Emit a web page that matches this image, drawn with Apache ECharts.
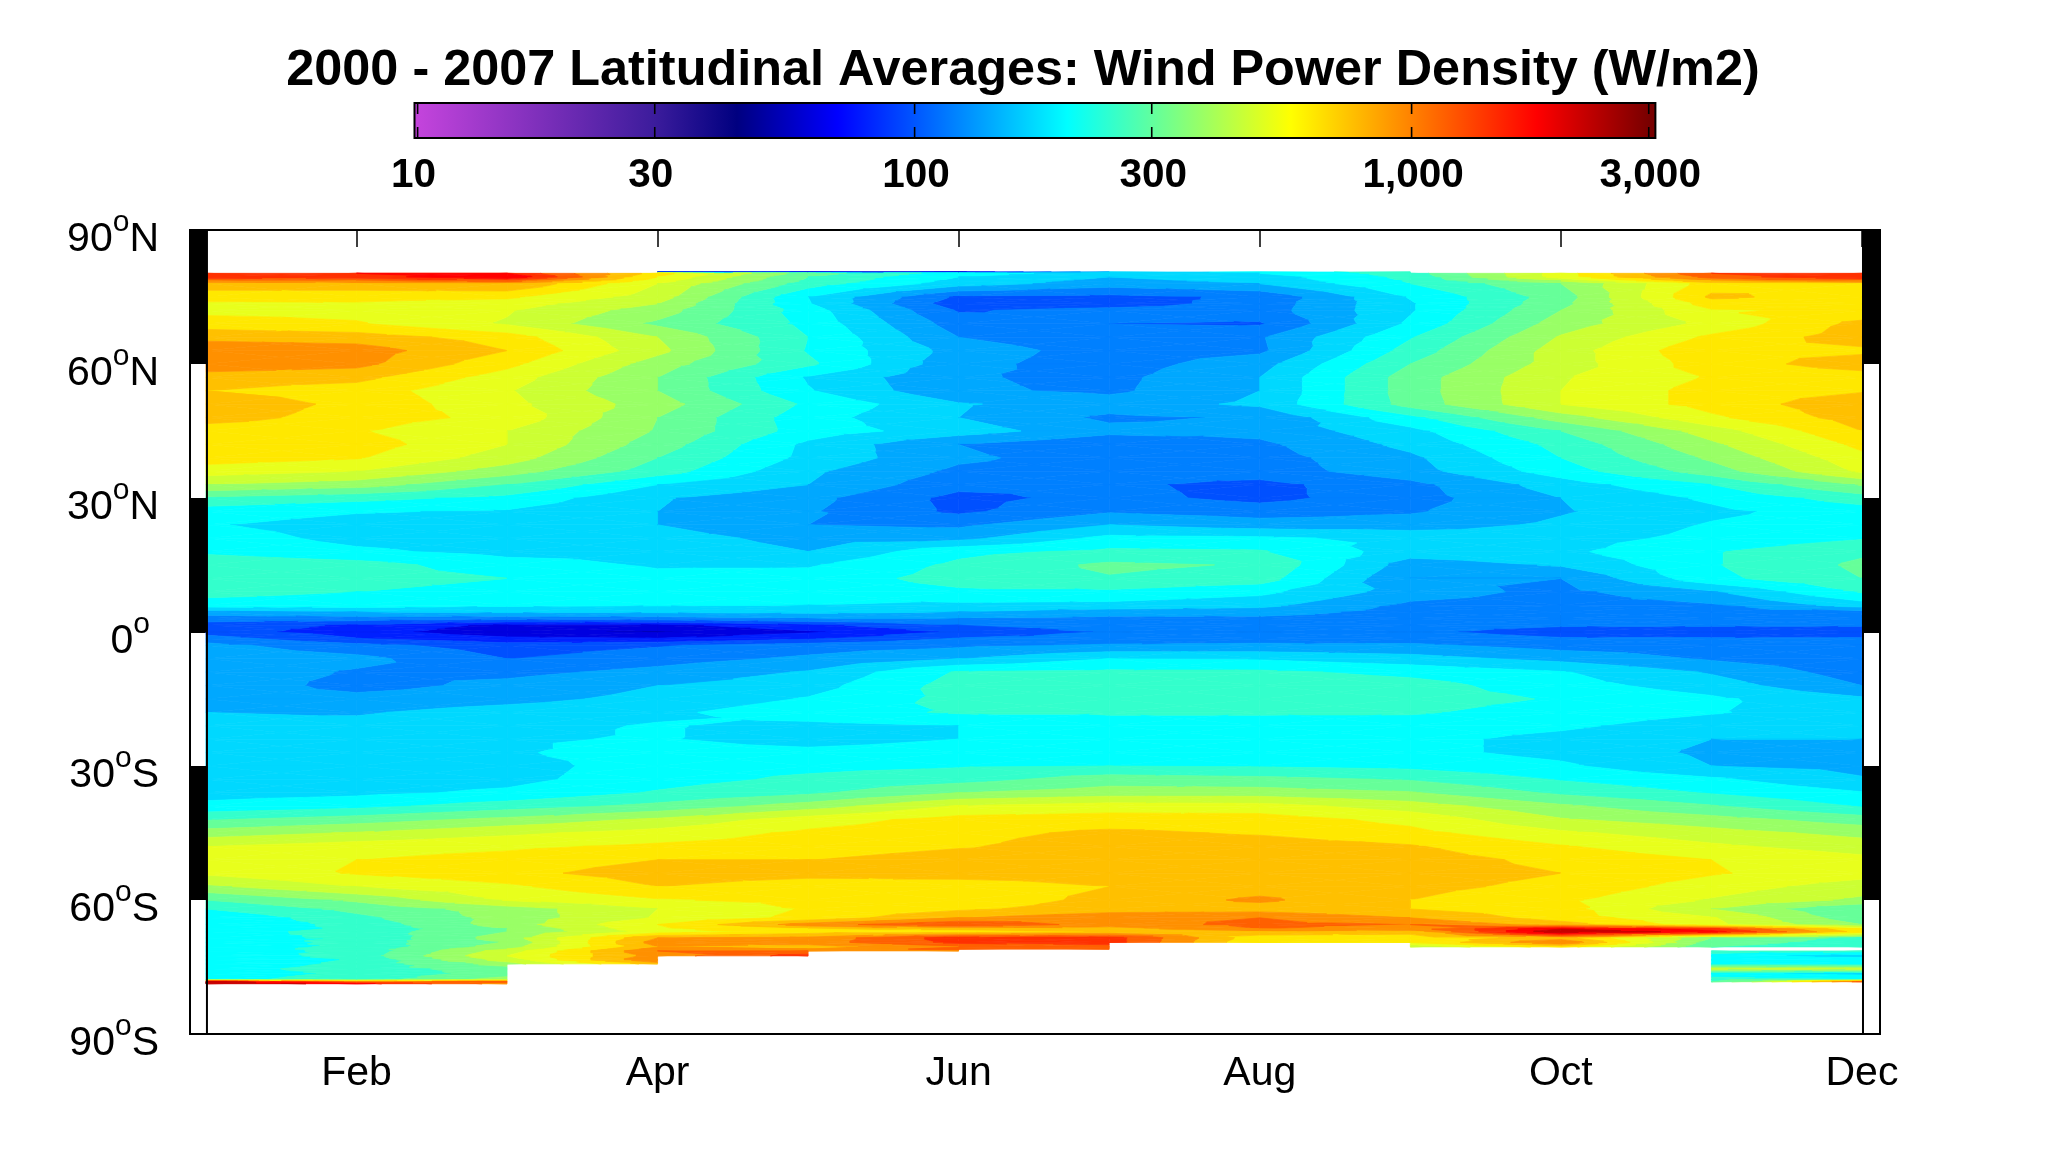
<!DOCTYPE html>
<html>
<head>
<meta charset="utf-8">
<style>html,body{margin:0;padding:0;background:#fff}#c{width:2069px;height:1149px}</style>
<script src="https://cdn.jsdelivr.net/npm/echarts@6/dist/echarts.min.js"></script>
</head>
<body>
<div id="c"></div>
<script>
const titleText = '2000 - 2007 Latitudinal Averages: Wind Power Density (W/m2)';
const monthNames = ['Jan','Feb','Mar','Apr','May','Jun','Jul','Aug','Sep','Oct','Nov','Dec'];
const monthTicks = [2,4,6,8,10,12];
const latTicks = {'90':'90|N','60':'60|N','30':'30|N','0':'0|','-30':'30|S','-60':'60|S','-90':'90|S'};
const blackBands = [[90,60],[30,0],[-30,-60]];
const cbarTicks = [10,30,100,300,1000,3000];
const cbarStopValues = [9.857,10,30,44,70,203,570,1778,3000,3094];
const cbarStopColors = ['#c444dc','#c444dc','#3c1c9c','#000080','#0000ff','#00ffff','#ffff00','#ff0000','#780000','#780000'];
const contourLevels = [43,53,65,80,98,121,149,183,225,277,342,421,518,638,785,966,1189,1464,1802,2220,2730];
const bandColors = ['#00008c','#0000b8','#0000e0','#0020ff','#0050ff','#0080ff','#00a8ff','#00d8ff','#00ffff','#33ffcc','#66ff99','#99ff66','#ccff33','#e8ff1c','#ffe800','#ffc000','#ff9000','#ff6000','#ff3000','#ff0000','#c80000','#900000'];
const latitudes = [80.6,80.3,79.5,78.6,78,75,73.5,72,69,66,63,60,57,54,51,48,45,42,39,36,33,30,27,24,21,18,15,12,9,6,4.5,3,1.5,0,-1.5,-3,-6,-9,-12,-15,-18,-21,-24,-27,-30,-33,-36,-39,-42,-45,-48,-51,-54,-57,-60,-62,-64,-65.5,-66.5,-67.1,-68.5,-69.5,-70.5,-71,-71.4,-72.5,-73.4,-74.3,-75.4,-76.5,-77.8,-78.3,-78.75];
const N = null;
const windPower = [
[N,N,N,50,50,50,149,203,250,N,N,N],
[1625,1802,1802,708,308,203,165,183,250,575,1464,1625],
[1700,1625,2220,638,277,183,149,165,240,575,1320,1802],
[1140,1189,1320,575,266,172,140,158,230,421,966,1189],
[871,908,966,518,250,165,134,149,225,342,708,785],
[708,679,665,467,183,94,92,102,186,308,818,708],
[612,625,575,421,186,86,88,107,179,321,708,693],
[599,599,529,379,203,96,105,109,179,342,625,665],
[708,651,507,328,212,109,98,96,190,379,551,836],
[908,871,708,421,225,121,102,118,221,430,665,871],
[1117,1072,785,448,221,137,109,116,245,467,753,753],
[1117,1028,679,379,235,129,109,137,277,467,708,871],
[871,836,575,342,179,124,114,149,308,507,651,708],
[785,708,529,342,186,126,116,149,308,518,693,769],
[927,738,551,379,216,152,134,155,302,518,693,908],
[871,708,599,342,199,149,116,124,212,379,612,871],
[693,651,518,335,203,165,129,129,172,277,467,785],
[708,708,518,308,175,121,102,116,158,240,403,679],
[708,651,467,277,172,126,109,111,143,225,356,599],
[575,518,379,250,155,116,109,109,137,203,308,540],
[421,379,277,183,149,105,102,92,114,165,225,349],
[266,240,212,152,129,92,105,92,111,149,190,250],
[203,186,179,149,124,94,118,109,118,146,175,203],
[186,168,165,149,121,116,149,134,134,155,186,203],
[203,172,165,165,137,140,194,190,172,168,194,221],
[216,190,172,175,149,212,235,230,165,175,221,266],
[261,245,199,179,179,235,289,272,134,152,221,289],
[266,245,225,194,199,245,272,250,121,121,212,277],
[240,225,207,194,194,216,216,194,134,114,146,230],
[207,203,190,186,183,175,172,158,116,111,118,165],
[134,149,155,155,158,149,134,134,111,109,109,114],
[109,109,105,109,121,121,114,114,109,109,109,109],
[88,78,61,61,75,98,109,109,105,100,100,100],
[88,72,55,52,63,83,100,105,102,90,88,88],
[109,81,69,66,78,100,109,111,109,100,100,100],
[129,105,88,96,109,116,124,126,126,111,109,109],
[140,129,98,111,126,149,183,179,162,140,118,105],
[140,118,114,129,152,230,235,235,212,186,146,109],
[143,111,129,149,168,245,261,266,245,199,165,121],
[140,131,140,158,186,240,272,261,245,221,190,155],
[149,146,162,175,207,230,230,230,230,207,186,165],
[155,158,172,186,172,183,207,207,203,190,165,158],
[165,165,179,186,168,183,212,212,194,172,149,149],
[162,165,179,199,194,203,207,207,194,172,143,134],
[152,165,168,203,212,221,225,221,212,190,149,140],
[149,165,172,207,235,255,308,295,272,221,190,152],
[168,175,190,230,266,342,379,379,349,266,221,186],
[194,212,250,295,379,529,575,563,467,356,283,221],
[272,308,364,439,575,693,708,708,599,430,372,308],
[379,430,497,563,665,738,818,769,679,540,457,395],
[518,575,612,665,693,769,871,871,802,651,540,467],
[599,638,693,785,785,871,871,871,871,738,638,551],
[540,651,738,871,836,871,871,871,871,785,651,563],
[403,518,612,785,708,693,785,871,836,738,575,467],
[277,356,529,625,679,679,836,1007,785,665,507,403],
[225,295,379,518,651,753,871,871,785,693,421,277],
[186,261,372,529,679,966,1117,1189,966,708,529,295],
[190,240,379,638,1072,1464,1072,1265,1189,871,551,342],
[194,235,342,612,785,818,871,1189,1072,2220,1625,638],
[203,245,342,575,708,708,802,927,871,2730,2000,708],
[212,232,379,966,1028,1625,1625,679,679,871,342,261],
[183,245,349,1072,1072,1560,1625,638,638,1189,308,250],
[203,235,379,966,871,1189,1320,N,421,708,277,240],
[199,245,421,1072,966,1320,1320,N,N,N,N,N],
[207,235,467,1189,1189,1072,N,N,N,N,250,240],
[194,245,518,1072,1625,N,N,N,N,N,203,165],
[190,230,467,1189,N,N,N,N,N,N,203,212],
[183,240,379,871,N,N,N,N,N,N,203,194],
[203,250,308,N,N,N,N,N,N,N,467,467],
[207,232,308,N,N,N,N,N,N,N,194,172],
[212,245,379,N,N,N,N,N,N,N,250,225],
[2730,1072,1320,N,N,N,N,N,N,N,277,1320],
[2730,2000,1072,N,N,N,N,N,N,N,N,N]
];

const FONT = 'Liberation Sans';
const ll = contourLevels.map(Math.log10);

function clip(poly, lim, keepAbove) {
  const out = [];
  for (let i = 0; i < poly.length; i++) {
    const a = poly[i], b = poly[(i + 1) % poly.length];
    const ain = keepAbove ? a[2] >= lim : a[2] <= lim;
    const bin = keepAbove ? b[2] >= lim : b[2] <= lim;
    if (ain) out.push(a);
    if (ain !== bin) {
      const t = (lim - a[2]) / (b[2] - a[2]);
      out.push([a[0] + t * (b[0] - a[0]), a[1] + t * (b[1] - a[1]), lim]);
    }
  }
  return out;
}

const cells = [];
for (let r = 0; r < latitudes.length - 1; r++) {
  for (let c = 0; c < monthNames.length - 1; c++) {
    const a = windPower[r][c], b = windPower[r][c + 1], d = windPower[r + 1][c], e = windPower[r + 1][c + 1];
    if (a == null || b == null || d == null || e == null) continue;
    cells.push([c + 1, latitudes[r], c + 2, latitudes[r + 1], a, b, d, e]);
  }
}

function renderCell(params, api) {
  const x0 = api.value(0), y0 = api.value(1), x1 = api.value(2), y1 = api.value(3);
  const corner = (x, y, v) => { const p = api.coord([x, y]); return [p[0], p[1], Math.log10(v)]; };
  const A = corner(x0, y0, api.value(4)), B = corner(x1, y0, api.value(5));
  const D = corner(x0, y1, api.value(6)), E = corner(x1, y1, api.value(7));
  const M = [(A[0] + E[0]) / 2, (A[1] + E[1]) / 2, (A[2] + B[2] + D[2] + E[2]) / 4];
  const tris = [[A, B, M], [B, E, M], [E, D, M], [D, A, M]];
  const children = [];
  tris.forEach(tri => {
    const lo = Math.min(tri[0][2], tri[1][2], tri[2][2]);
    const hi = Math.max(tri[0][2], tri[1][2], tri[2][2]);
    for (let b = 0; b < bandColors.length; b++) {
      const low = b === 0 ? -Infinity : ll[b - 1];
      const high = b === bandColors.length - 1 ? Infinity : ll[b];
      if (hi < low || lo > high) continue;
      let poly = tri;
      if (low !== -Infinity) poly = clip(poly, low, true);
      if (poly.length && high !== Infinity) poly = clip(poly, high, false);
      if (poly.length < 3) continue;
      children.push({
        type: 'polygon',
        shape: { points: poly.map(p => [p[0], p[1]]) },
        style: { fill: bandColors[b], stroke: bandColors[b], lineWidth: 0.7 }
      });
    }
  });
  return { type: 'group', children };
}

function renderStrip(params, api) {
  const x0 = api.value(0), x1 = api.value(1), top = api.value(2), bottom = api.value(3);
  const a = api.coord([x0, top]), b = api.coord([x1, bottom]);
  return { type: 'rect', shape: { x: a[0], y: a[1], width: b[0] - a[0], height: b[1] - a[1] }, style: { fill: '#000' } };
}

function renderInnerLine(params, api) {
  const a = api.coord([api.value(0), 90]), b = api.coord([api.value(0), -90]);
  return { type: 'line', shape: { x1: a[0], y1: a[1], x2: b[0], y2: b[1] }, style: { stroke: '#000', lineWidth: 2 } };
}

const logMin = Math.log10(cbarStopValues[0]), logMax = Math.log10(cbarStopValues[cbarStopValues.length - 1]);
function renderCbar(params, api) {
  const a = api.coord([api.value(0), 1]), b = api.coord([api.value(1), 0]);
  return {
    type: 'rect',
    shape: { x: a[0], y: a[1], width: b[0] - a[0], height: b[1] - a[1] },
    style: {
      fill: new echarts.graphic.LinearGradient(0, 0, 1, 0, cbarStopValues.map((v, i) => ({
        offset: (Math.log10(v) - logMin) / (logMax - logMin), color: cbarStopColors[i]
      }))),
      stroke: '#000', lineWidth: 2
    }
  };
}
function renderCbarTick(params, api) {
  const v = api.value(0);
  const t = api.coord([v, 1]), b = api.coord([v, 0]);
  const text = v >= 1000 ? String(v).replace(/(\d)(\d{3})$/, '$1,$2') : String(v);
  return {
    type: 'group',
    children: [
      { type: 'line', shape: { x1: t[0], y1: t[1], x2: t[0], y2: t[1] + 11 }, style: { stroke: '#000', lineWidth: 1.6 } },
      { type: 'line', shape: { x1: b[0], y1: b[1], x2: b[0], y2: b[1] - 11 }, style: { stroke: '#000', lineWidth: 1.6 } },
      { type: 'text', x: t[0] + (v < 100 ? -4 : 1.5), y: 176, style: { text, fill: '#000', font: 'bold 40.5px "' + FONT + '"', align: 'center', verticalAlign: 'middle' } }
    ]
  };
}

const chart = echarts.init(document.getElementById('c'), null, { renderer: 'canvas' });
const monthAxis = (position, showLabel) => ({
  type: 'value', gridIndex: 0, position, min: 0.894, max: 12.12,
  splitLine: { show: false },
  axisLine: { show: true, lineStyle: { color: '#000', width: 2 } },
  axisTick: { show: true, inside: true, length: 17, customValues: monthTicks, lineStyle: { color: '#000', width: 1.5 } },
  axisLabel: {
    show: showLabel, customValues: monthTicks, margin: 19, color: '#000',
    fontFamily: FONT, fontSize: 41, hideOverlap: false,
    formatter: v => monthNames[v - 1] || ''
  }
});
chart.setOption({
  animation: false,
  backgroundColor: '#fff',
  title: {
    text: titleText, left: 1018, top: 41, textAlign: 'center',
    textStyle: { fontFamily: FONT, fontWeight: 'bold', fontSize: 50.4, color: '#000' }
  },
  grid: [
    { left: 190, top: 230, width: 1690, height: 804, show: true, borderColor: '#000', borderWidth: 2, backgroundColor: 'transparent' },
    { left: 414.5, top: 103, width: 1240.9, height: 35 }
  ],
  xAxis: [
    monthAxis('bottom', true),
    monthAxis('top', false),
    { type: 'log', gridIndex: 1, min: cbarStopValues[0], max: cbarStopValues[cbarStopValues.length - 1], show: false }
  ],
  yAxis: [
    {
      type: 'value', gridIndex: 0, min: -90, max: 90, interval: 30,
      splitLine: { show: false }, axisTick: { show: false },
      axisLine: { show: true, lineStyle: { color: '#000', width: 2 } },
      axisLabel: {
        margin: 31, color: '#000', fontFamily: FONT, fontSize: 41,
        formatter: v => {
          const p = latTicks[String(v)].split('|');
          return '{n|' + p[0] + '}{o|o}' + (p[1] ? '{n|' + p[1] + '}' : '{s|}');
        },
        rich: {
          n: { fontFamily: FONT, fontSize: 41, color: '#000', padding: [20, 0, 0, 0] },
          o: { fontFamily: FONT, fontSize: 30, color: '#000', padding: [0, 0, 14, 0] },
          s: { width: 9 }
        }
      }
    },
    { type: 'value', gridIndex: 1, min: 0, max: 1, show: false }
  ],
  series: [
    {
      type: 'custom', xAxisIndex: 0, yAxisIndex: 0, z: 2, clip: false,
      renderItem: renderCell, data: cells, encode: { x: [0, 2], y: [1, 3] }, progressive: 0, silent: true
    },
    {
      type: 'custom', xAxisIndex: 0, yAxisIndex: 0, z: 3,
      renderItem: renderStrip, encode: { x: [0, 1], y: [2, 3] }, silent: true,
      data: blackBands.flatMap(b => [[0.894, 1.0066, b[0], b[1]], [12.007, 12.12, b[0], b[1]]])
    },
    {
      type: 'custom', xAxisIndex: 0, yAxisIndex: 0, z: 3,
      renderItem: renderInnerLine, encode: { x: 0 }, silent: true, data: [[1.0066], [12.007]]
    },
    {
      type: 'custom', xAxisIndex: 2, yAxisIndex: 1, z: 2,
      renderItem: renderCbar, encode: { x: [0, 1] }, silent: true,
      data: [[cbarStopValues[0], cbarStopValues[cbarStopValues.length - 1]]]
    },
    {
      type: 'custom', xAxisIndex: 2, yAxisIndex: 1, z: 3, clip: false,
      renderItem: renderCbarTick, encode: { x: 0 }, silent: true, data: cbarTicks.map(v => [v])
    }
  ]
});
</script>
</body>
</html>
